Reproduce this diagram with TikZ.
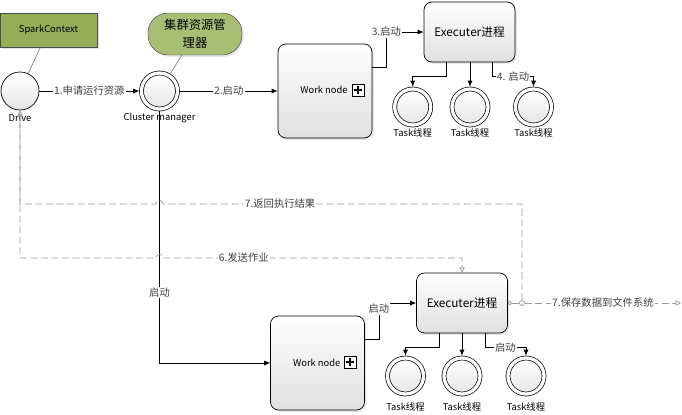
\documentclass[tikz,border=0pt]{standalone}
\usepackage{fontspec}
\setmainfont{Noto Sans CJK SC}
\usepackage{tikz}
\usetikzlibrary{arrows.meta,positioning,shadows,calc}

\definecolor{sparkgreen}{HTML}{93AE57}
\definecolor{notegreen}{HTML}{A9BE75}
\definecolor{msggray}{HTML}{9A9A9A}

\begin{document}
\begin{tikzpicture}[x=0.03cm, y=-0.03cm,
note/.style={
    rectangle, draw=black!70,
    fill=sparkgreen,
    minimum width=2.91cm,
    minimum height=1.02cm,
    font=\fontsize{8}{10}\selectfont,
    drop shadow={opacity=0.2, shadow xshift=1.5pt, shadow yshift=-1.5pt}
},
pill/.style={
    rectangle, draw=black!70, rounded corners=0.6cm,
    fill=notegreen,
    minimum width=2.82cm,
    minimum height=1.26cm,
    align=center,
    font=\fontsize{10.5}{15.5}\selectfont,
    drop shadow={opacity=0.2, shadow xshift=1.5pt, shadow yshift=-1.5pt}
},
evt/.style={
    circle, draw, line width=0.6pt,
    top color=white, bottom color=black!10,
    minimum size=1.14cm, inner sep=0pt
},
evtd/.style={
    circle, draw, line width=0.6pt,
    double, double distance=2.8pt,
    top color=white, bottom color=black!10,
    minimum size=1.08cm, inner sep=0pt, outer sep=2pt
},
proc/.style={
    rectangle, draw, rounded corners=0.24cm, line width=0.6pt,
    top color=white, bottom color=black!12,
    minimum width=2.82cm,
    minimum height=2.82cm,
    drop shadow={opacity=0.2, shadow xshift=1.5pt, shadow yshift=-1.5pt}
},
exec/.style={
    rectangle, draw, rounded corners=0.24cm, line width=0.6pt,
    top color=white, bottom color=black!12,
    minimum width=2.73cm,
    minimum height=1.8cm,
    font=\fontsize{10}{12}\selectfont,
    drop shadow={opacity=0.2, shadow xshift=1.5pt, shadow yshift=-1.5pt}
},
plusbox/.style={
    rectangle, draw, line width=0.7pt, fill=white,
    minimum size=0.36cm, inner sep=0pt,
    path picture={
      \draw[line width=1.3pt] ([xshift=-3pt]path picture bounding box.center) -- ([xshift=3pt]path picture bounding box.center);
      \draw[line width=1.3pt] ([yshift=-3pt]path picture bounding box.center) -- ([yshift=3pt]path picture bounding box.center);
    }
},
jnc/.style={circle, draw=msggray, fill=white, line width=0.6pt, minimum size=0.15cm, inner sep=0pt},
lbl/.style={font=\fontsize{8}{10}\selectfont, inner sep=1pt},
elbl/.style={lbl, font=\fontsize{8.8}{10}\selectfont, fill=white, text=black!75},
arr/.style={line width=0.6pt, -{Latex[length=1.8mm, width=1.5mm]}},
msg/.style={draw=msggray, line width=0.6pt, dash pattern=on 6pt off 3pt},
assoc/.style={draw=black!55, line width=0.5pt}
]

\path[use as bounding box, fill=white] (0,0) rectangle (682,414);

\node[note] (spark) at (48.5,30) {SparkContext};
\node[pill] (crm) at (195,34) {集群资源管\\理器};
\node[evt] (drive) at (20,91) {};
\node[lbl] (drivet) at (20,118) {Drive};
\node[evtd] (cm) at (159.5,91) {};
\node[lbl] (cmt) at (159.5,118) {Cluster manager};

\node[proc] (wn1) at (325,91) {};
\node[lbl] (wn1t) at (324,90) {Work node};
\node[plusbox] (wn1p) at (358,90) {};
\node[exec] (exec1) at (469.5,32) {Executer进程};
\node[evtd] (t1) at (412.7,107) {};
\node[evtd] (t2) at (470,107) {};
\node[evtd] (t3) at (533.5,107) {};
\node[lbl] (t1t) at (412.7,133) {Task线程};
\node[lbl] (t2t) at (470,133) {Task线程};
\node[lbl] (t3t) at (533.5,133) {Task线程};

\node[proc] (wn2) at (317.5,363) {};
\node[lbl] (wn2t) at (316.7,363) {Work node};
\node[plusbox] (wn2p) at (350,362) {};
\node[exec] (exec2) at (462,303) {Executer进程};
\node[evtd] (t4) at (405.5,376) {};
\node[evtd] (t5) at (462,376) {};
\node[evtd] (t6) at (526,376) {};
\node[lbl] (t4t) at (405.5,407) {Task线程};
\node[lbl] (t5t) at (462,407) {Task线程};
\node[lbl] (t6t) at (526,407) {Task线程};

\node[jnc] (jn) at (522,303) {};
\coordinate (fs) at (681,303);
\coordinate (r7) at (522,204);
\coordinate (l7) at (20,204);
\coordinate (l6) at (20,258);
\coordinate (r6) at (462,258);

\draw[assoc] (spark) -- (drive);
\draw[assoc] (crm) -- (cm);

\draw[arr] (drive) -- node[elbl] {1.申请运行资源} (cm);
\draw[arr] (cm) -- node[elbl] {2.启动} (wn1);
\draw[arr] ($(wn1.north east)!0.25!(wn1.south east)$) -- ++(14,0) |- node[elbl, pos=0.5] {3.启动} (exec1);
\draw[arr] ($(exec1.south west)!0.25!(exec1.south east)$) -- ++(0,14) -| (t1);
\draw[arr] (exec1.south -| t2) -- (t2);
\draw[arr] ($(exec1.south west)!0.75!(exec1.south east)$) -- ++(0,14) -| node[elbl, pos=0.25] {4. 启动} (t3);

\draw[arr] (cm) |- node[elbl, pos=0.36] {启动} (wn2);
\draw[arr] ($(wn2.north east)!0.25!(wn2.south east)$) -- ++(14,0) |- node[elbl, pos=0.42] {启动} (exec2);
\draw[arr] ($(exec2.south west)!0.25!(exec2.south east)$) -- ++(0,14) -| (t4);
\draw[arr] (exec2.south -| t5) -- (t5);
\draw[arr] ($(exec2.south west)!0.75!(exec2.south east)$) -- ++(0,14) -| node[elbl, pos=0.25] {启动} (t6);

\draw[msg, -{Triangle[open, length=1.6mm, width=1.6mm]}] (drive) -- (l6) -- (156,258) .. controls (156,253) and (163,253) .. (163,258) -- node[elbl, pos=0.27] {6.发送作业} (r6) -- (exec2);
\draw[msg, {Circle[open, length=1.2mm]}-] (exec2) -- (jn);
\draw[msg, -{Triangle[open, length=1.6mm, width=1.6mm]}] (jn) -- (r7) -- node[elbl, pos=0.674] {7.返回执行结果} (163,204) .. controls (163,199) and (156,199) .. (156,204) -- (l7) -- (drive);
\draw[msg, -{Triangle[open, length=1.6mm, width=1.6mm]}] (jn) -- node[elbl] {7.保存数据到文件系统} (fs);

\end{tikzpicture}
\end{document}
